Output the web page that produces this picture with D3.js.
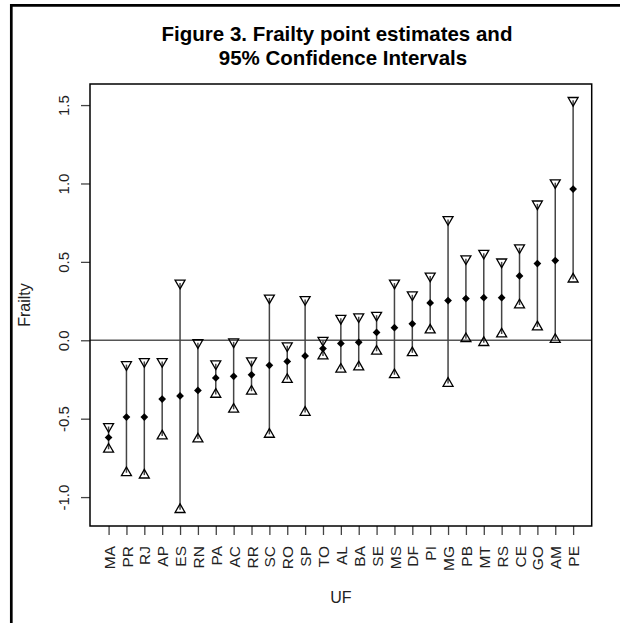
<!DOCTYPE html>
<html>
<head>
<meta charset="utf-8">
<script src="https://cdn.jsdelivr.net/npm/d3@7"></script>
<style>
  body { margin: 0; background: #fff; }
  svg { display: block; font-family: "Liberation Sans", Arial, sans-serif; }
</style>
</head>
<body>
<script>
// UF order as plotted (sorted by point estimate)
var states = ["MA","PR","RJ","AP","ES","RN","PA","AC","RR","SC","RO","SP","TO","AL",
              "BA","SE","MS","DF","PI","MG","PB","MT","RS","CE","GO","AM","PE"];
var estimate = [-0.62,-0.49,-0.49,-0.375,-0.355,-0.32,-0.24,-0.23,-0.22,-0.16,-0.135,-0.10,-0.053,-0.02,
                -0.013,0.05,0.08,0.105,0.238,0.253,0.266,0.272,0.272,0.41,0.489,0.508,0.964];
var lower = [-0.695,-0.845,-0.86,-0.61,-1.08,-0.63,-0.345,-0.44,-0.325,-0.60,-0.25,-0.46,-0.10,-0.185,
             -0.17,-0.07,-0.22,-0.08,0.065,-0.275,0.01,-0.015,0.04,0.225,0.085,0.005,0.39];
var upper = [-0.55,-0.155,-0.135,-0.135,0.365,-0.015,-0.15,-0.01,-0.13,0.27,-0.035,0.26,0.0,0.14,
             0.15,0.16,0.365,0.29,0.41,0.77,0.52,0.555,0.50,0.59,0.87,1.005,1.53];
var yTicks = [-1.0, -0.5, 0.0, 0.5, 1.0, 1.5];

var width = 620, height = 623;
var box = {left: 90, right: 591.7, top: 84, bottom: 526};

var svg = d3.select("body").append("svg")
    .attr("width", width)
    .attr("height", height);

// outer frame (only top and left edges show)
svg.append("path")
    .attr("d", "M11.3,623V5.3H620")
    .style("fill", "none")
    .style("stroke", "#000")
    .style("stroke-width", "2.7px");

// R-style 4% padding on both axes
var n = states.length;
var x = d3.scaleLinear()
    .domain([1 - 0.04 * (n - 1), n + 0.04 * (n - 1)])
    .range([box.left, box.right]);

var ymin = d3.min(lower), ymax = d3.max(upper), pad = 0.04 * (ymax - ymin);
var y = d3.scaleLinear()
    .domain([ymin - pad, ymax + pad])
    .range([box.bottom, box.top]);

var rows = states.map(function(s, i) {
  return {uf: s, i: i + 1, est: estimate[i], lo: lower[i], hi: upper[i]};
});

// title
svg.append("text")
    .attr("x", 337).attr("y", 41)
    .attr("text-anchor", "middle")
    .style("font-size", "20.5px").style("font-weight", "bold")
    .text("Figure 3. Frailty point estimates and");
svg.append("text")
    .attr("x", 343).attr("y", 65)
    .attr("text-anchor", "middle")
    .style("font-size", "20.5px").style("font-weight", "bold")
    .text("95% Confidence Intervals");

// y axis
var yAxis = svg.append("g")
    .attr("transform", "translate(" + box.left + ",0)")
    .call(d3.axisLeft(y).tickValues(yTicks).tickSize(9)
      .tickFormat(function(d) { return d.toFixed(1); }));
yAxis.select(".domain").remove();
yAxis.selectAll("line").style("stroke", "#444").style("stroke-width", "1.3px");
yAxis.selectAll("text")
    .attr("x", null).attr("dy", null)
    .attr("transform", "translate(-21,0) rotate(-90)")
    .attr("text-anchor", "middle")
    .style("font-size", "15px")
    .style("font-family", "'Liberation Sans', Arial, sans-serif")
    .style("fill", "#222");

// x axis
var xAxis = svg.append("g")
    .attr("transform", "translate(0," + box.bottom + ")")
    .call(d3.axisBottom(x).tickValues(d3.range(1, n + 1)).tickSize(9)
      .tickFormat(function(d) { return states[d - 1]; }));
xAxis.select(".domain").remove();
xAxis.selectAll("line").style("stroke", "#444").style("stroke-width", "1.3px");
xAxis.selectAll("text")
    .attr("y", null).attr("dy", "0.36em")
    .attr("transform", "translate(0,20) rotate(-90)")
    .attr("text-anchor", "end")
    .style("font-size", "15.5px")
    .style("font-family", "'Liberation Sans', Arial, sans-serif")
    .style("fill", "#222");

// axis titles
svg.append("text")
    .attr("transform", "translate(30," + ((box.top + box.bottom) / 2) + ") rotate(-90)")
    .attr("text-anchor", "middle")
    .style("font-size", "16px").style("fill", "#222")
    .text("Frailty");
svg.append("text")
    .attr("x", (box.left + box.right) / 2).attr("y", 603)
    .attr("text-anchor", "middle")
    .style("font-size", "16px").style("fill", "#222")
    .text("UF");

// reference line at zero
svg.append("line")
    .attr("x1", box.left).attr("x2", box.right)
    .attr("y1", y(0)).attr("y2", y(0))
    .style("stroke", "#555")
    .style("stroke-width", "1.5px");

// CI segments
svg.selectAll(".ci").data(rows).enter().append("line")
    .attr("class", "ci")
    .attr("x1", function(d) { return x(d.i); })
    .attr("x2", function(d) { return x(d.i); })
    .attr("y1", function(d) { return y(d.lo); })
    .attr("y2", function(d) { return y(d.hi); })
    .style("stroke", "#444")
    .style("stroke-width", "1.5px");

// R pch 2 / pch 6 triangles
var R = 3.7, tr = 1.555 * R, ty = 0.778 * R, tx = 1.347 * R;
function triUp() {
  return "M0," + (-tr) + "L" + tx + "," + ty + "L" + (-tx) + "," + ty + "Z";
}
function triDown() {
  return "M0," + tr + "L" + tx + "," + (-ty) + "L" + (-tx) + "," + (-ty) + "Z";
}

svg.selectAll(".lo").data(rows).enter().append("path")
    .attr("class", "lo")
    .attr("transform", function(d) { return "translate(" + x(d.i) + "," + y(d.lo) + ")"; })
    .attr("d", triUp)
    .style("fill", "none")
    .style("stroke", "#000")
    .style("stroke-width", "1.3px");

svg.selectAll(".hi").data(rows).enter().append("path")
    .attr("class", "hi")
    .attr("transform", function(d) { return "translate(" + x(d.i) + "," + y(d.hi) + ")"; })
    .attr("d", triDown)
    .style("fill", "none")
    .style("stroke", "#000")
    .style("stroke-width", "1.3px");

// point estimates (filled diamonds)
svg.selectAll(".est").data(rows).enter().append("path")
    .attr("class", "est")
    .attr("transform", function(d) { return "translate(" + x(d.i) + "," + y(d.est) + ") rotate(45)"; })
    .attr("d", d3.symbol().type(d3.symbolSquare).size(30))
    .style("fill", "#000");

// plot box
svg.append("rect")
    .attr("x", box.left).attr("y", box.top)
    .attr("width", box.right - box.left)
    .attr("height", box.bottom - box.top)
    .style("fill", "none")
    .style("stroke", "#000")
    .style("stroke-width", "1.5px");
</script>
</body>
</html>
